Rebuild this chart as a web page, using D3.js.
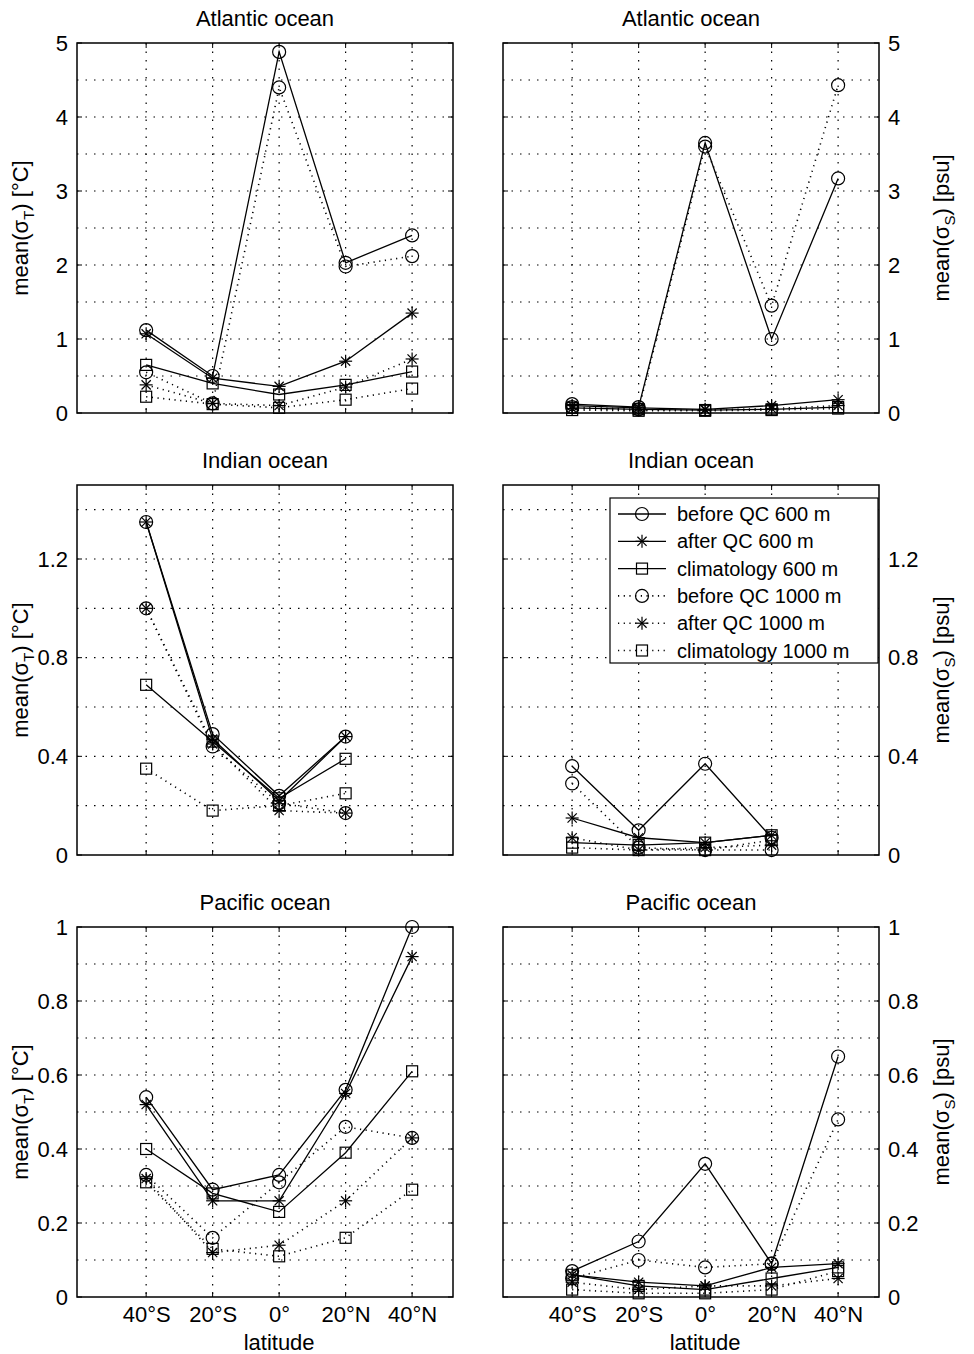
<!DOCTYPE html>
<html><head><meta charset="utf-8">
<script src="https://cdn.jsdelivr.net/npm/d3@7"></script>
<style>body{margin:0;background:#fff;font-family:"Liberation Sans",Arial,sans-serif;}</style>
</head><body><div id="chart"></div>
<script>
var lats = [-40, -20, 0, 20, 40];
var latLabels = ["40°S", "20°S", "0°", "20°N", "40°N"];
var seriesNames = ["before QC 600 m", "after QC 600 m", "climatology 600 m",
  "before QC 1000 m", "after QC 1000 m", "climatology 1000 m"];
var seriesMarker = ["circle", "star", "square", "circle", "star", "square"];
var seriesDash = [false, false, false, true, true, true];

// temperature, [°C]; null = no data
var atlT = [
  [1.12, 0.50, 4.88, 2.03, 2.40],
  [1.07, 0.47, 0.36, 0.70, 1.35],
  [0.65, 0.40, 0.25, 0.38, 0.56],
  [0.55, 0.13, 4.40, 1.98, 2.12],
  [0.38, 0.13, 0.10, 0.35, 0.73],
  [0.22, 0.12, 0.07, 0.18, 0.33]];
var indT = [
  [1.35, 0.49, 0.24, 0.48, null],
  [1.35, 0.47, 0.22, 0.48, null],
  [0.69, 0.46, 0.23, 0.39, null],
  [1.00, 0.44, 0.21, 0.17, null],
  [1.00, 0.45, 0.18, 0.17, null],
  [0.35, 0.18, 0.20, 0.25, null]];
var pacT = [
  [0.54, 0.29, 0.33, 0.56, 1.00],
  [0.52, 0.26, 0.26, 0.55, 0.92],
  [0.40, 0.28, 0.23, 0.39, 0.61],
  [0.33, 0.16, 0.31, 0.46, 0.43],
  [0.32, 0.12, 0.14, 0.26, 0.43],
  [0.31, 0.13, 0.11, 0.16, 0.29]];
// salinity, [psu]
var atlS = [
  [0.12, 0.08, 3.65, 1.00, 3.17],
  [0.10, 0.07, 0.05, 0.10, 0.18],
  [0.07, 0.05, 0.04, 0.05, 0.08],
  [0.08, 0.05, 3.60, 1.45, 4.43],
  [0.06, 0.04, 0.04, 0.06, 0.10],
  [0.04, 0.03, 0.03, 0.04, 0.06]];
var indS = [
  [0.36, 0.10, 0.37, 0.07, null],
  [0.15, 0.07, 0.05, 0.08, null],
  [0.05, 0.04, 0.05, 0.08, null],
  [0.29, 0.03, 0.02, 0.02, null],
  [0.07, 0.02, 0.03, 0.04, null],
  [0.03, 0.02, 0.02, 0.06, null]];
var pacS = [
  [0.07, 0.15, 0.36, 0.09, 0.65],
  [0.06, 0.04, 0.03, 0.08, 0.09],
  [0.06, 0.03, 0.02, 0.05, 0.08],
  [0.05, 0.10, 0.08, 0.09, 0.48],
  [0.04, 0.02, 0.03, 0.03, 0.05],
  [0.02, 0.01, 0.01, 0.02, 0.07]];

var f1 = function(d){ return d === 0 ? "0" : d3.format(".1f")(d); };
var f2 = function(d){ return d === 0 || d === 1 ? d3.format("d")(d) : d3.format(".1f")(d); };
var panels = [
  {title: "Atlantic ocean", data: atlT, x: 77, y: 43, max: 5, ticks: [0,1,2,3,4,5], minor: 0.5, side: "left", fmt: d3.format("d")},
  {title: "Atlantic ocean", data: atlS, x: 503, y: 43, max: 5, ticks: [0,1,2,3,4,5], minor: 0.5, side: "right", fmt: d3.format("d")},
  {title: "Indian ocean", data: indT, x: 77, y: 485, max: 1.5, ticks: [0,0.4,0.8,1.2], minor: 0.2, side: "left", fmt: f1},
  {title: "Indian ocean", data: indS, x: 503, y: 485, max: 1.5, ticks: [0,0.4,0.8,1.2], minor: 0.2, side: "right", legend: true, fmt: f1},
  {title: "Pacific ocean", data: pacT, x: 77, y: 927, max: 1, ticks: [0,0.2,0.4,0.6,0.8,1], minor: 0.1, side: "left", xlab: true, fmt: f2},
  {title: "Pacific ocean", data: pacS, x: 503, y: 927, max: 1, ticks: [0,0.2,0.4,0.6,0.8,1], minor: 0.1, side: "right", xlab: true, fmt: f2}
];

var W = 376, H = 370, FS = 22;
var svg = d3.select("#chart").append("svg").attr("width", 974).attr("height", 1354)
  .style("font-family", "Liberation Sans, Arial, sans-serif");

function marker(g, type, cx, cy) {
  if (type === "circle") {
    g.append("circle").attr("cx", cx).attr("cy", cy).attr("r", 6.5).attr("fill", "none").attr("stroke", "#000").attr("stroke-width", 1.2);
  } else if (type === "square") {
    g.append("rect").attr("x", cx - 5.5).attr("y", cy - 5.5).attr("width", 11).attr("height", 11).attr("fill", "none").attr("stroke", "#000").attr("stroke-width", 1.2);
  } else {
    var r = 6.5;
    [0, 45, 90, 135].forEach(function(a){
      var dx = r * Math.cos(a * Math.PI / 180), dy = r * Math.sin(a * Math.PI / 180);
      g.append("line").attr("x1", cx - dx).attr("y1", cy - dy).attr("x2", cx + dx).attr("y2", cy + dy).attr("stroke", "#000").attr("stroke-width", 1.2);
    });
  }
}

panels.forEach(function(p){
  var g = svg.append("g").attr("transform", "translate(" + p.x + "," + p.y + ")");
  var x = d3.scaleLinear().domain([-60.8, 52.3]).range([0, W]);
  var y = d3.scaleLinear().domain([0, p.max]).range([H, 0]);

  // grid
  d3.range(p.minor, p.max - 1e-9, p.minor).forEach(function(v){
    g.append("line").attr("x1", 0).attr("x2", W).attr("y1", y(v)).attr("y2", y(v))
      .attr("stroke", "#000").attr("stroke-width", 1.2).attr("stroke-dasharray", "1.5,7");
  });
  lats.forEach(function(l){
    g.append("line").attr("x1", x(l)).attr("x2", x(l)).attr("y1", 0).attr("y2", H)
      .attr("stroke", "#000").attr("stroke-width", 1.2).attr("stroke-dasharray", "1.5,7");
  });

  var line = d3.line().defined(function(d){ return d != null; })
    .x(function(d, i){ return x(lats[i]); }).y(function(d){ return y(d); });
  p.data.forEach(function(vals, s){
    g.append("path").attr("d", line(vals)).attr("fill", "none").attr("stroke", "#000")
      .attr("stroke-width", seriesDash[s] ? 1.6 : 1.3)
      .attr("stroke-dasharray", seriesDash[s] ? "1.2,4.5" : null);
    vals.forEach(function(v, i){ if (v != null) marker(g, seriesMarker[s], x(lats[i]), y(v)); });
  });

  g.append("rect").attr("width", W).attr("height", H).attr("fill", "none").attr("stroke", "#000").attr("stroke-width", 1.5);

  var yAxis = (p.side === "left" ? d3.axisLeft(y) : d3.axisRight(y)).tickValues(p.ticks).tickFormat(p.fmt).tickSize(0).tickPadding(9);
  var ya = g.append("g").attr("transform", p.side === "left" ? "translate(0,0)" : "translate(" + W + ",0)").call(yAxis);
  ya.select(".domain").remove();
  ya.selectAll("text").attr("font-size", FS).attr("font-family", "Liberation Sans, Arial, sans-serif").attr("fill", "#000");
  p.ticks.forEach(function(v){
    g.append("line").attr("x1", 0).attr("x2", 5).attr("y1", y(v)).attr("y2", y(v)).attr("stroke", "#000");
    g.append("line").attr("x1", W - 5).attr("x2", W).attr("y1", y(v)).attr("y2", y(v)).attr("stroke", "#000");
  });
  lats.forEach(function(l){
    g.append("line").attr("x1", x(l)).attr("x2", x(l)).attr("y1", H - 5).attr("y2", H).attr("stroke", "#000");
    g.append("line").attr("x1", x(l)).attr("x2", x(l)).attr("y1", 0).attr("y2", 5).attr("stroke", "#000");
  });

  var lx = p.side === "left" ? -49 : W + 70;
  var lab = g.append("text").attr("transform", "translate(" + lx + "," + (H / 2) + ") rotate(-90)")
    .attr("text-anchor", "middle").attr("font-size", FS);
  lab.append("tspan").text("mean(σ");
  lab.append("tspan").attr("font-size", 15).attr("dy", 6).text(p.side === "left" ? "T" : "S");
  lab.append("tspan").attr("dy", -6).text(p.side === "left" ? ") [°C]" : ") [psu]");

  g.append("text").attr("x", W / 2).attr("y", -17).attr("text-anchor", "middle").attr("font-size", FS).text(p.title);

  if (p.xlab) {
    var xAxis = d3.axisBottom(x).tickValues(lats).tickFormat(function(d, i){ return latLabels[i]; }).tickSize(0).tickPadding(9);
    var xa = g.append("g").attr("transform", "translate(0," + H + ")").call(xAxis);
    xa.select(".domain").remove();
    xa.selectAll("text").attr("font-size", FS).attr("font-family", "Liberation Sans, Arial, sans-serif").attr("fill", "#000");
    g.append("text").attr("x", x(0)).attr("y", H + 53).attr("text-anchor", "middle").attr("font-size", FS).text("latitude");
  }

  if (p.legend) {
    var lg = g.append("g").attr("transform", "translate(107,13)");
    lg.append("rect").attr("width", 268).attr("height", 165).attr("fill", "#fff").attr("stroke", "#000").attr("stroke-width", 1.2);
    seriesNames.forEach(function(n, s){
      var yy = 16 + s * 27.3;
      lg.append("line").attr("x1", 8).attr("x2", 56).attr("y1", yy).attr("y2", yy).attr("stroke", "#000")
        .attr("stroke-width", seriesDash[s] ? 1.6 : 1.3).attr("stroke-dasharray", seriesDash[s] ? "1.2,4.5" : null);
      marker(lg, seriesMarker[s], 32, yy);
      lg.append("text").attr("x", 67).attr("y", yy + 7).attr("font-size", 20).text(n);
    });
  }
});
</script></body></html>
